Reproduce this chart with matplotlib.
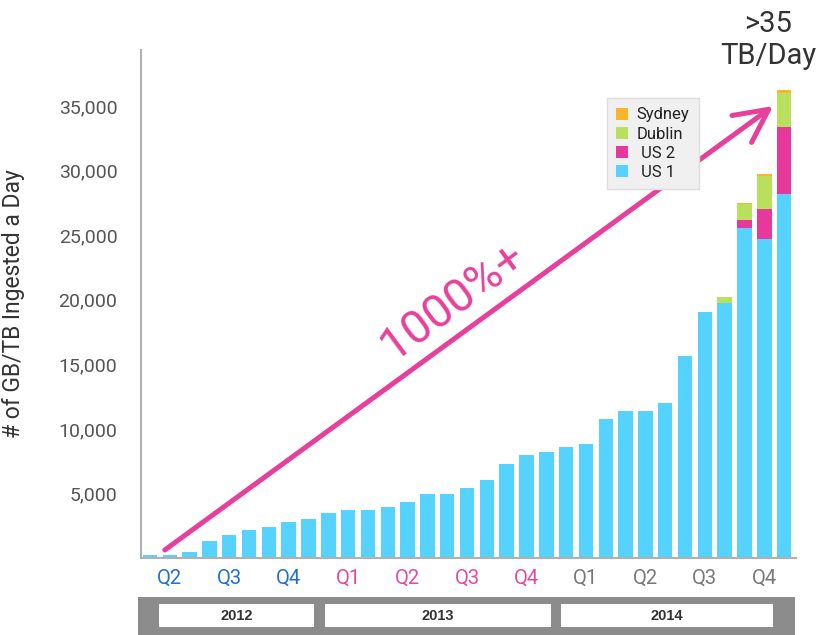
import numpy as np
import matplotlib.pyplot as plt
from matplotlib.patches import Rectangle

# Monthly values, Apr 2012 .. Dec 2014
us1 = [230, 230, 440, 1320, 1760, 2190, 2430, 2810, 3020, 3460, 3690, 3690,
       3920, 4310, 4980, 4980, 5400, 6070, 7300, 7950, 8190, 8600, 8830, 10770,
       11390, 11390, 12030, 15670, 19080, 19730, 25540, 24690, 28220]
us2 = [0] * 30 + [640, 2350, 5190]
dublin = [0] * 29 + [510, 1240, 2560, 2630]
sydney = [0] * 30 + [40, 155, 210]

quarters = ["Q2", "Q3", "Q4", "Q1", "Q2", "Q3", "Q4", "Q1", "Q2", "Q3", "Q4"]
quarter_year = ["2012", "2012", "2012", "2013", "2013", "2013", "2013",
                "2014", "2014", "2014", "2014"]
years = ["2012", "2013", "2014"]
year_colors = {"2012": "#1f6fcf", "2013": "#e8489c", "2014": "#777777"}

c_us1 = "#55d2fd"
c_us2 = "#e6399b"
c_dub = "#b9e05c"
c_syd = "#f9b52c"
pink = "#e8409a"

plt.rcParams['font.family'] = ['Roboto', 'DejaVu Sans']

fig = plt.figure(figsize=(8.21, 6.35), dpi=100)
ax = fig.add_axes([141 / 821, 1 - 558 / 635, 655 / 821, 508 / 635])

x = np.arange(len(us1))
w = 0.73
b1 = np.array(us1)
b2 = b1 + np.array(us2)
b3 = b2 + np.array(dublin)
ax.bar(x, us1, w, color=c_us1, label=" US 1")
ax.bar(x, us2, w, bottom=b1, color=c_us2, label=" US 2")
ax.bar(x, dublin, w, bottom=b2, color=c_dub, label="Dublin")
ax.bar(x, sydney, w, bottom=b3, color=c_syd, label="Sydney")

ax.set_xlim(-0.45, 32.6)
ax.set_ylim(0, 39350)
yt = [5000, 10000, 15000, 20000, 25000, 30000, 35000]
ax.set_yticks(yt)
ax.set_yticklabels(["{:,}".format(v) for v in yt], fontsize=14, color="#555555")
ax.tick_params(axis="y", length=0, pad=17)

qpos = [3 * i + 1 for i in range(len(quarters))]
ax.set_xticks(qpos)
ax.set_xticklabels(quarters, fontsize=14.5)
for lab, yr in zip(ax.get_xticklabels(), quarter_year):
    lab.set_color(year_colors[yr])
ax.tick_params(axis="x", length=0, pad=8)

for s in ["top", "right"]:
    ax.spines[s].set_visible(False)
for s in ["left", "bottom"]:
    ax.spines[s].set_color("#b0b0b0")
    ax.spines[s].set_linewidth(1.5)

ax.set_ylabel("# of GB/TB Ingested a Day", fontsize=16.5, color="#333333")
ax.yaxis.set_label_coords(-0.177, 0.5)

# growth arrow
ax.annotate("", xy=(31.45, 35010), xytext=(0.75, 620),
            arrowprops=dict(arrowstyle="->,head_length=1.2,head_width=0.6",
                            color=pink, lw=3.6, mutation_scale=20,
                            shrinkA=0, shrinkB=0), zorder=3)
ax.text(15.25, 19900, "1000%+", color=pink, fontsize=34, rotation=36.5,
        ha="center", va="center", rotation_mode="anchor")

fig.text(768 / 821, 1 - 24 / 635, ">35", fontsize=21, color="#333333",
         ha="center", va="center")
fig.text(768 / 821, 1 - 56 / 635, "TB/Day", fontsize=21, color="#333333",
         ha="center", va="center")

handles, labels = ax.get_legend_handles_labels()
leg = ax.legend(handles[::-1], labels[::-1], loc="upper left",
                bbox_to_anchor=(0.711, 0.905), fontsize=12,
                frameon=True, fancybox=False, facecolor="#f0f0f0",
                edgecolor="#dddddd", framealpha=1, handlelength=0.75,
                handleheight=0.75, handletextpad=0.5, borderpad=0.55,
                labelspacing=0.25, borderaxespad=0)
leg.set_zorder(5)
for t in leg.get_texts():
    t.set_color("#222222")

# year band
bax = fig.add_axes([138 / 821, 0, 657 / 821, 38 / 635])
bax.set_facecolor("#8c8c8c")
bax.set_xlim(138, 795)
bax.set_ylim(0, 38)
bax.set_xticks([])
bax.set_yticks([])
for s in bax.spines.values():
    s.set_visible(False)
box_left = [159, 325, 561]
box_right = [314, 551, 773]
for yr, l, r in zip(years, box_left, box_right):
    bax.add_patch(Rectangle((l, 8), r - l, 23, facecolor="white", edgecolor="none"))
    bax.text((l + r) / 2, 19.5, yr, ha="center", va="center", fontsize=10.5,
             fontweight="bold", color="#333333", family="Liberation Sans")

fig.savefig("out.png", dpi=100)
